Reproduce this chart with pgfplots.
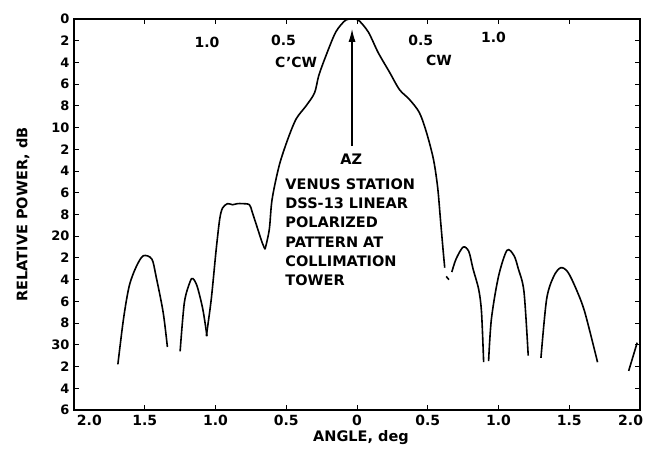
\documentclass[border=0pt]{standalone}
\usepackage{fontspec}
\setmainfont{DejaVu Sans}
\usepackage{pgfplots}
\pgfplotsset{compat=1.18}
\usetikzlibrary{arrows.meta}

\begin{document}
\begin{tikzpicture}
\begin{axis}[
    scale only axis,
    width=566pt, height=391pt,
    xmin=-2, xmax=2,
    ymin=0, ymax=36,
    y dir=reverse,
    xtick={-2,-1.5,...,2},
    xticklabels={\makebox[0pt][l]{\hspace{3pt}2.0},1.5,1.0,0.5,0,0.5,1.0,1.5,\makebox[6pt][r]{2.0}},
    ytick={0,2,...,36},
    yticklabels={0,2,4,6,8,10,2,4,6,8,20,2,4,6,8,30,2,4,6},
    tick align=inside,
    major tick length=5pt,
    tick style={line width=0.9pt, black},
    axis line style={line width=1.5pt},
    ticklabel style={font=\bfseries\fontsize{14}{14}\selectfont},
    xticklabel style={yshift=-2pt},
    yticklabel style={font=\bfseries\fontsize{13}{13}\selectfont, xshift=-1pt},
    xlabel={ANGLE, deg},
    ylabel={RELATIVE POWER, dB},
    label style={font=\bfseries\fontsize{14.5}{14.5}\selectfont},
    xlabel style={at={(axis description cs:0.507,0)}, anchor=center, yshift=-28pt},
    ylabel style={at={(axis description cs:0,0.5)}, anchor=center, yshift=51pt},
    clip=false,
]

% side lobes, CCW side
\addplot[black, line width=1.6pt, smooth, tension=0.5] coordinates {
    (-1.69,31.8) (-1.65,27.6) (-1.61,24.6) (-1.56,22.8) (-1.51,21.8)
    (-1.45,22.1) (-1.42,23.7) (-1.37,27.0) (-1.34,30.2)
};
\addplot[black, line width=1.6pt, smooth, tension=0.5] coordinates {
    (-1.25,30.6) (-1.22,26.1) (-1.18,24.2) (-1.16,23.9) (-1.13,24.6)
    (-1.09,26.7) (-1.06,29.2)
};
\addplot[black, line width=1.6pt, smooth, tension=0.5] coordinates {
    (-1.065,29.2) (-1.03,25.8) (-0.995,21.2) (-0.97,18.4) (-0.95,17.4)
    (-0.915,17.0) (-0.88,17.1) (-0.845,17.0) (-0.81,17.0) (-0.76,17.1)
    (-0.74,17.8) (-0.70,19.4) (-0.67,20.6) (-0.65,21.2)
};

% main lobe
\addplot[black, line width=1.6pt, smooth, tension=0.5] coordinates {
    (-0.65,21.2) (-0.62,19.4) (-0.60,16.6) (-0.55,13.5) (-0.49,11.1)
    (-0.43,9.2) (-0.36,8.0) (-0.30,6.8) (-0.27,5.2) (-0.22,3.4)
    (-0.15,1.2) (-0.08,0.1) (-0.03,0) (0.01,0.1) (0.08,1.2)
    (0.15,3.1) (0.23,4.9) (0.30,6.5) (0.37,7.4) (0.44,8.6)
    (0.49,10.4) (0.54,12.9) (0.57,15.5) (0.59,18.5) (0.61,21.5) (0.62,22.9)
};

% side lobes, CW side
\addplot[black, line width=1.6pt] coordinates {(0.63,23.7) (0.65,24.0)};
\addplot[black, line width=1.6pt, smooth, tension=0.5] coordinates {
    (0.67,23.3) (0.70,22.1) (0.75,21.0) (0.79,21.4) (0.82,23.0)
    (0.86,24.9) (0.88,27.0) (0.895,31.6)
};
\addplot[black, line width=1.6pt, smooth, tension=0.5] coordinates {
    (0.93,31.5) (0.95,27.6) (1.00,23.7) (1.06,21.3) (1.11,21.8)
    (1.14,23.0) (1.18,25.1) (1.21,31.0)
};
\addplot[black, line width=1.6pt, smooth, tension=0.5] coordinates {
    (1.30,31.2) (1.34,25.8) (1.39,23.7) (1.44,22.9) (1.49,23.3)
    (1.55,24.9) (1.61,27.0) (1.70,31.6)
};
\addplot[black, line width=1.6pt] coordinates {(1.92,32.4) (1.98,29.8)};

% angle labels along the top
\begin{scope}[font=\bfseries\fontsize{14}{14}\selectfont]
\node[anchor=base] at (axis cs:-1.06,2.6) {1.0};
\node[anchor=base] at (axis cs:-0.52,2.45) {0.5};
\node[anchor=base] at (axis cs:-0.43,4.45) {C'CW};
\node[anchor=base] at (axis cs:0.45,2.45) {0.5};
\node[anchor=base] at (axis cs:0.58,4.3) {CW};
\node[anchor=base] at (axis cs:0.965,2.2) {1.0};
\end{scope}

% azimuth arrow and caption
\draw[-{Latex[length=13pt,width=7pt]}, line width=1.4pt] (axis cs:-0.035,11.7) -- (axis cs:-0.035,0.9);
\begin{scope}[font=\bfseries\fontsize{14.5}{14.5}\selectfont]
\node[anchor=base] at (axis cs:-0.04,13.4) {AZ};
\node[anchor=base west, inner sep=0pt] at (axis cs:-0.507,15.73) {VENUS STATION};
\node[anchor=base west, inner sep=0pt] at (axis cs:-0.507,17.49) {DSS-13 LINEAR};
\node[anchor=base west, inner sep=0pt] at (axis cs:-0.507,19.24) {POLARIZED};
\node[anchor=base west, inner sep=0pt] at (axis cs:-0.507,21.0) {PATTERN AT};
\node[anchor=base west, inner sep=0pt] at (axis cs:-0.507,22.75) {COLLIMATION};
\node[anchor=base west, inner sep=0pt] at (axis cs:-0.507,24.5) {TOWER};
\end{scope}
\end{axis}
\pgfresetboundingbox
\path ([xshift=-74pt,yshift=-49pt]current axis.south west) rectangle ([xshift=5pt,yshift=19pt]current axis.north east);
\end{tikzpicture}
\end{document}
